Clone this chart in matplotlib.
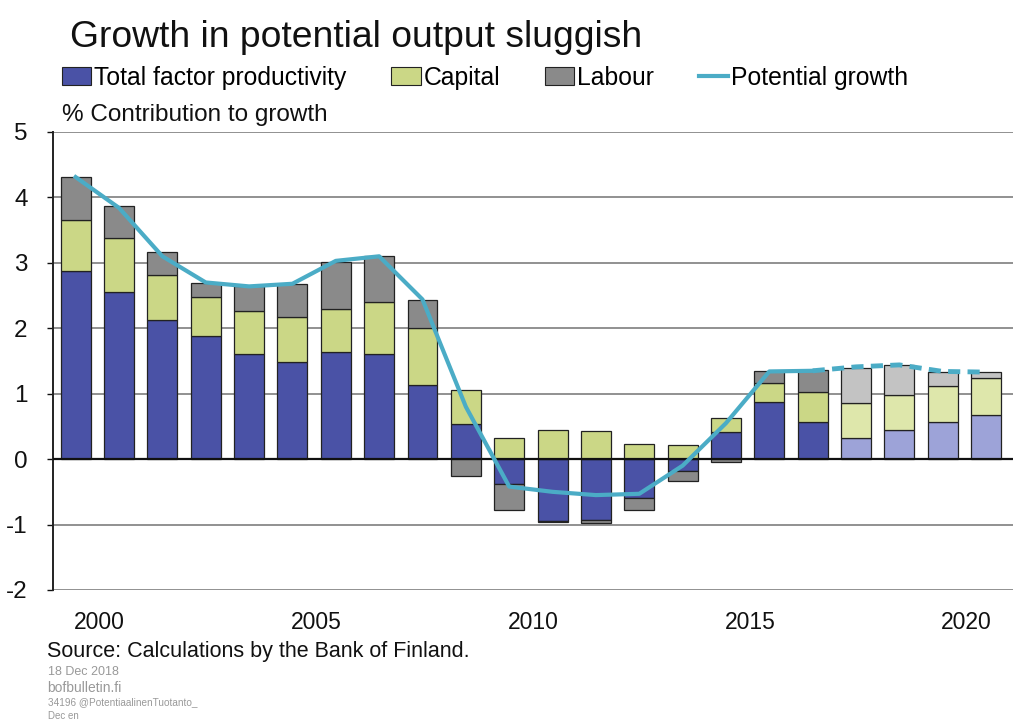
import numpy as np
import matplotlib
matplotlib.use("Agg")
import matplotlib.pyplot as plt
from matplotlib.patches import Patch
from matplotlib.lines import Line2D

plt.rcParams['font.family'] = ['Liberation Sans', 'DejaVu Sans']
plt.rcParams['axes.unicode_minus'] = False

# ---------- data ----------
years = np.arange(2000, 2022)
tfp = [2.87, 2.56, 2.13, 1.88, 1.61, 1.48, 1.63, 1.61, 1.13, 0.53, -0.38,
       -0.95, -0.93, -0.60, -0.18, 0.42, 0.88, 0.56, 0.33, 0.45, 0.57, 0.68]
capital = [0.78, 0.82, 0.68, 0.60, 0.65, 0.69, 0.66, 0.79, 0.88, 0.52, 0.33,
           0.44, 0.43, 0.23, 0.21, 0.21, 0.29, 0.46, 0.53, 0.53, 0.55, 0.56]
labour = [0.66, 0.49, 0.35, 0.21, 0.38, 0.50, 0.72, 0.70, 0.42, -0.26, -0.40,
          -0.01, -0.05, -0.18, -0.16, -0.05, 0.18, 0.34, 0.54, 0.46, 0.21, 0.09]
potential = [4.31, 3.84, 3.10, 2.70, 2.64, 2.68, 3.03, 3.10, 2.44, 0.80, -0.42,
             -0.50, -0.55, -0.53, -0.10, 0.55, 1.34, 1.35, 1.41, 1.44, 1.34, 1.33]
first_forecast = 2018
xtick_years = [2000, 2005, 2010, 2015, 2020]

# colours: actual / forecast
c_tfp = ['#4a52a6', '#9da3d8']
c_cap = ['#cbd786', '#dee7ab']
c_lab = ['#8a8a8a', '#c3c3c3']
c_line = '#4bacc6'

fig = plt.figure(figsize=(10.13, 7.2), dpi=100)
ax = fig.add_axes([0.052, 0.1806, 0.948, 0.6361])

tfp = np.array(tfp)
capital = np.array(capital)
labour = np.array(labour)

for i, yr in enumerate(years):
    k = 1 if yr >= first_forecast else 0
    pos_base = 0.0
    neg_base = 0.0
    for val, cols in [(tfp[i], c_tfp), (capital[i], c_cap), (labour[i], c_lab)]:
        if val >= 0:
            ax.bar(yr, val, bottom=pos_base, width=0.69, color=cols[k],
                   edgecolor='#222222', linewidth=0.9, zorder=3)
            pos_base += val
        else:
            ax.bar(yr, val, bottom=neg_base, width=0.69, color=cols[k],
                   edgecolor='#222222', linewidth=0.9, zorder=3)
            neg_base += val

split = list(years).index(2017)
ax.plot(years[:split + 1], potential[:split + 1], color=c_line, lw=3, zorder=5)
ax.plot(years[split:], potential[split:], color=c_line, lw=3.5, ls=(0, (2.5, 1.5)),
        zorder=5)

ax.set_xlim(1999.47, 2021.62)
ax.set_ylim(-2, 5)
ax.set_yticks(range(-2, 6))
# category labels sit between bars, as in the original
ax.set_xticks([y + 0.55 for y in xtick_years])
ax.set_xticklabels([str(y) for y in xtick_years])
ax.tick_params(axis='y', labelsize=17.5, length=4, width=1, pad=14, colors='#111111')
ax.tick_params(axis='x', labelsize=16.5, length=0, pad=15, colors='#111111')
ax.yaxis.grid(True, color='#888888', lw=1.3, zorder=0)
ax.axhline(0, color='#111111', lw=1.6, zorder=4)
for s in ['top', 'right', 'bottom']:
    ax.spines[s].set_visible(False)
ax.spines['left'].set_color('#222222')
ax.spines['left'].set_linewidth(1.4)

fig.text(0.069, 0.935, "Growth in potential output sluggish", fontsize=26.8,
         color='#111111')

handles = [Patch(facecolor=c_tfp[0], edgecolor='#222222', lw=0.8),
           Patch(facecolor=c_cap[0], edgecolor='#222222', lw=0.8),
           Patch(facecolor=c_lab[0], edgecolor='#222222', lw=0.8),
           Line2D([0], [0], color=c_line, lw=3)]
labels = ["Total factor productivity", "Capital", "Labour", "Potential growth"]
fig.legend(handles, labels, loc='upper left', bbox_to_anchor=(0.051, 0.922),
           ncol=4, frameon=False, fontsize=17.8, handlelength=1.2, handleheight=0.75,
           handletextpad=0.12, columnspacing=1.8, borderaxespad=0)

fig.text(0.061, 0.832, "% Contribution to growth", fontsize=17.5, color='#111111')
fig.text(0.046, 0.088, "Source: Calculations by the Bank of Finland.", fontsize=15.5,
         color='#111111')
fig.text(0.047, 0.062, "18 Dec 2018", fontsize=9, color='#999999')
fig.text(0.047, 0.039, "bofbulletin.fi", fontsize=10, color='#999999')
fig.text(0.047, 0.020, "34196 @PotentiaalinenTuotanto_", fontsize=7.2, color='#999999')
fig.text(0.047, 0.002, "Dec en", fontsize=7, color='#999999')

fig.savefig("out.png", dpi=100)
